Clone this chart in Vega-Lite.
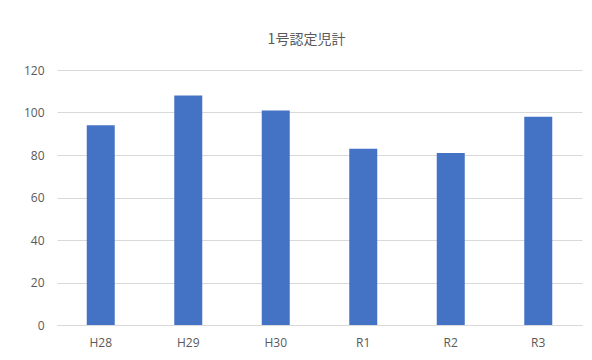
{
  "$schema": "https://vega.github.io/schema/vega-lite/v6.json",
  "width": 525,
  "height": 255,
  "autosize": {"type": "none"},
  "padding": {"left": 57, "top": 70, "right": 10, "bottom": 35},
  "background": "white",
  "title": {
    "text": "1号認定児計",
    "font": "Noto Sans CJK JP",
    "fontSize": 14,
    "fontWeight": "normal",
    "color": "#595959",
    "anchor": "middle",
    "offset": 17,
    "dx": -13
  },
  "data": {
    "values": [
      {"year": "H28", "count": 94},
      {"year": "H29", "count": 108},
      {"year": "H30", "count": 101},
      {"year": "R1", "count": 83},
      {"year": "R2", "count": 81},
      {"year": "R3", "count": 98}
    ]
  },
  "mark": {"type": "bar", "color": "#4472C4"},
  "encoding": {
    "x": {
      "field": "year",
      "type": "nominal",
      "sort": null,
      "scale": {"paddingInner": 0.68, "paddingOuter": 0.34},
      "axis": {
        "title": null,
        "labelAngle": 0,
        "ticks": false,
        "domainColor": "#d9d9d9",
        "labelColor": "#595959",
        "labelFont": "Open Sans",
        "labelFontSize": 12,
        "labelPadding": 12
      }
    },
    "y": {
      "field": "count",
      "type": "quantitative",
      "scale": {"domain": [0, 120]},
      "axis": {
        "title": null,
        "values": [0, 20, 40, 60, 80, 100, 120],
        "ticks": false,
        "domain": false,
        "gridColor": "#d9d9d9",
        "labelColor": "#595959",
        "labelFont": "Open Sans",
        "labelFontSize": 12,
        "labelPadding": 13
      }
    }
  },
  "config": {"view": {"stroke": null}}
}
